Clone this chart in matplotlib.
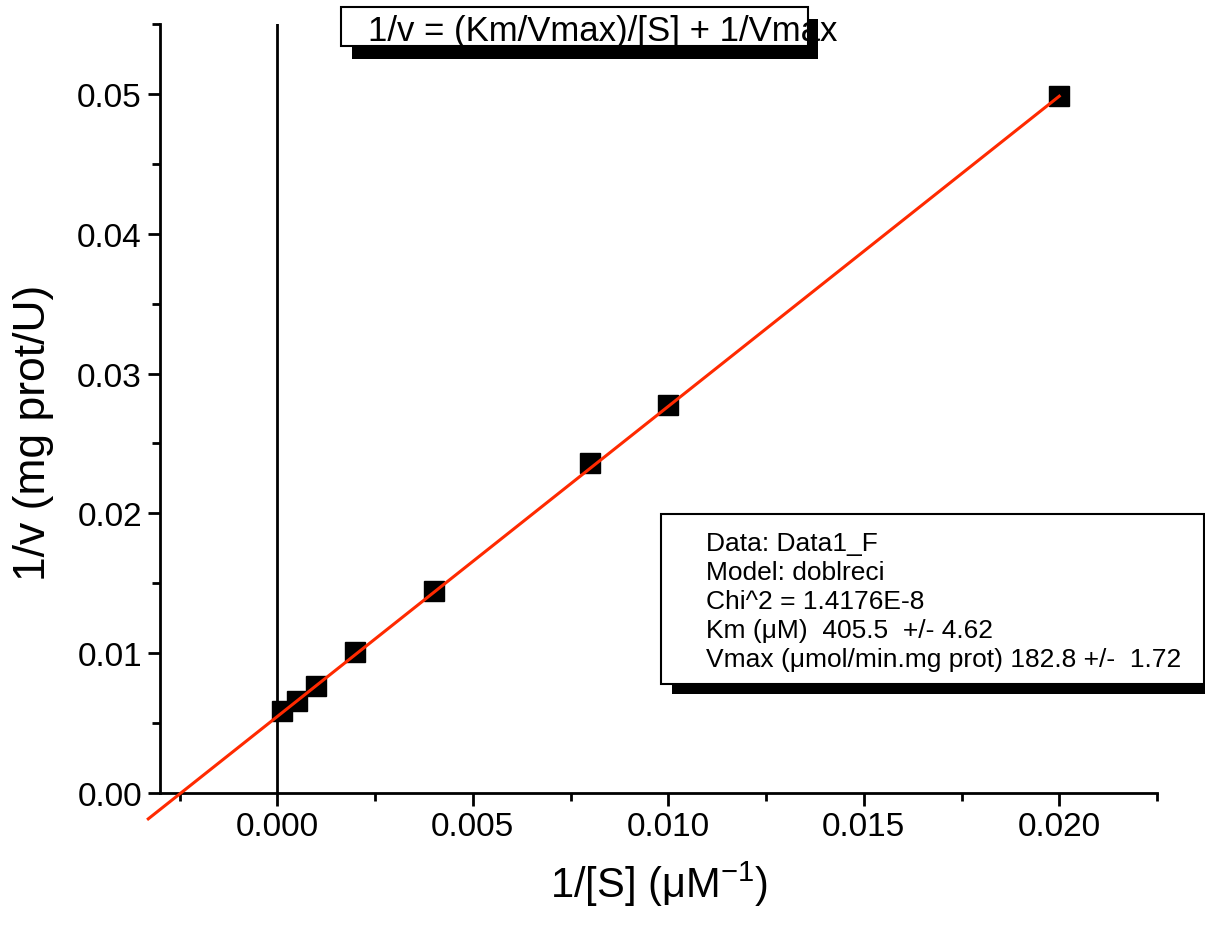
import numpy as np
import matplotlib
matplotlib.use("Agg")
from matplotlib import pyplot as plt
from matplotlib.patches import Rectangle
from matplotlib.ticker import MultipleLocator

plt.rcParams["font.family"] = ["Liberation Sans", "DejaVu Sans"]
plt.rcParams["mathtext.fontset"] = "custom"
plt.rcParams["mathtext.rm"] = "Liberation Sans"
plt.rcParams["mathtext.it"] = "Liberation Sans"

# double reciprocal data, 1/[S] (uM^-1) and 1/v (mg prot/U)
inv_s = [0.000125, 0.0005, 0.001, 0.002, 0.004, 0.008, 0.010, 0.020]
inv_v = [0.00587, 0.00658, 0.00765, 0.01009, 0.01445, 0.0236, 0.02775, 0.04986]

# fitted parameters
km = 405.5
vmax = 182.8
fit_range = [-0.0033, 0.020]

fit_lines = [
    "Data: Data1_F",
    "Model: doblreci",
    "Chi^2 = 1.4176E-8",
    "Km (\u03bcM)  405.5  +/- 4.62",
    "Vmax (\u03bcmol/min.mg prot) 182.8 +/-  1.72",
]

W, H = 1205, 928
fig = plt.figure(figsize=(W / 100, H / 100), dpi=100)
ax = fig.add_axes([160 / W, 1 - 794 / H, (1157 - 160) / W, (794 - 25) / H])

ax.plot(inv_s, inv_v, "s", color="black", markersize=14, zorder=3)

xf = np.array(fit_range)
ax.plot(xf, km / vmax * xf + 1 / vmax, color="#ff2a00", lw=2.2,
        zorder=4, clip_on=False)

ax.axvline(0, color="black", lw=2, zorder=2)

ax.set_xlim(-0.003, 0.0225)
ax.set_ylim(0, 0.055)
ax.xaxis.set_major_locator(MultipleLocator(0.005))
ax.xaxis.set_minor_locator(MultipleLocator(0.0025))
ax.yaxis.set_major_locator(MultipleLocator(0.01))
ax.yaxis.set_minor_locator(MultipleLocator(0.005))
ax.xaxis.set_major_formatter(lambda v, p: f"{v:.3f}")
ax.yaxis.set_major_formatter(lambda v, p: f"{v:.2f}")

for side in ["top", "right"]:
    ax.spines[side].set_visible(False)
for side in ["left", "bottom"]:
    ax.spines[side].set_linewidth(2)

ax.tick_params(which="major", length=9, width=2, labelsize=24, pad=4)
ax.tick_params(which="minor", length=6, width=2)

ax.set_xlabel("1/[S] (\u03bcM$^{-1}$)", fontsize=30, labelpad=12)
ax.set_ylabel("1/v (mg prot/U)", fontsize=32)
ax.yaxis.set_label_coords(-0.106, 0.47)


def box(x0, y0, x1, y1, **kw):
    # rectangle in figure pixel coords, y measured from top
    r = Rectangle((x0 / W, 1 - y1 / H), (x1 - x0) / W, (y1 - y0) / H,
                  transform=fig.transFigure, **kw)
    fig.patches.append(r)


# equation box with drop shadow
box(352, 20, 818, 60, facecolor="black", edgecolor="none")
box(341, 8, 808, 47, facecolor="white", edgecolor="black", lw=1.5)
fig.text(368 / W, 1 - 32 / H, "1/v = (Km/Vmax)/[S] + 1/Vmax",
         fontsize=25, va="center", ha="left")

# fit results box with drop shadow
box(672, 525, 1205, 695, facecolor="black", edgecolor="none")
box(661, 515, 1204, 685, facecolor="white", edgecolor="black", lw=1.5)
for i, line in enumerate(fit_lines):
    fig.text(706 / W, 1 - (544 + 29 * i) / H, line, fontsize=19,
             va="center", ha="left")

fig.savefig("out.png", dpi=100)
